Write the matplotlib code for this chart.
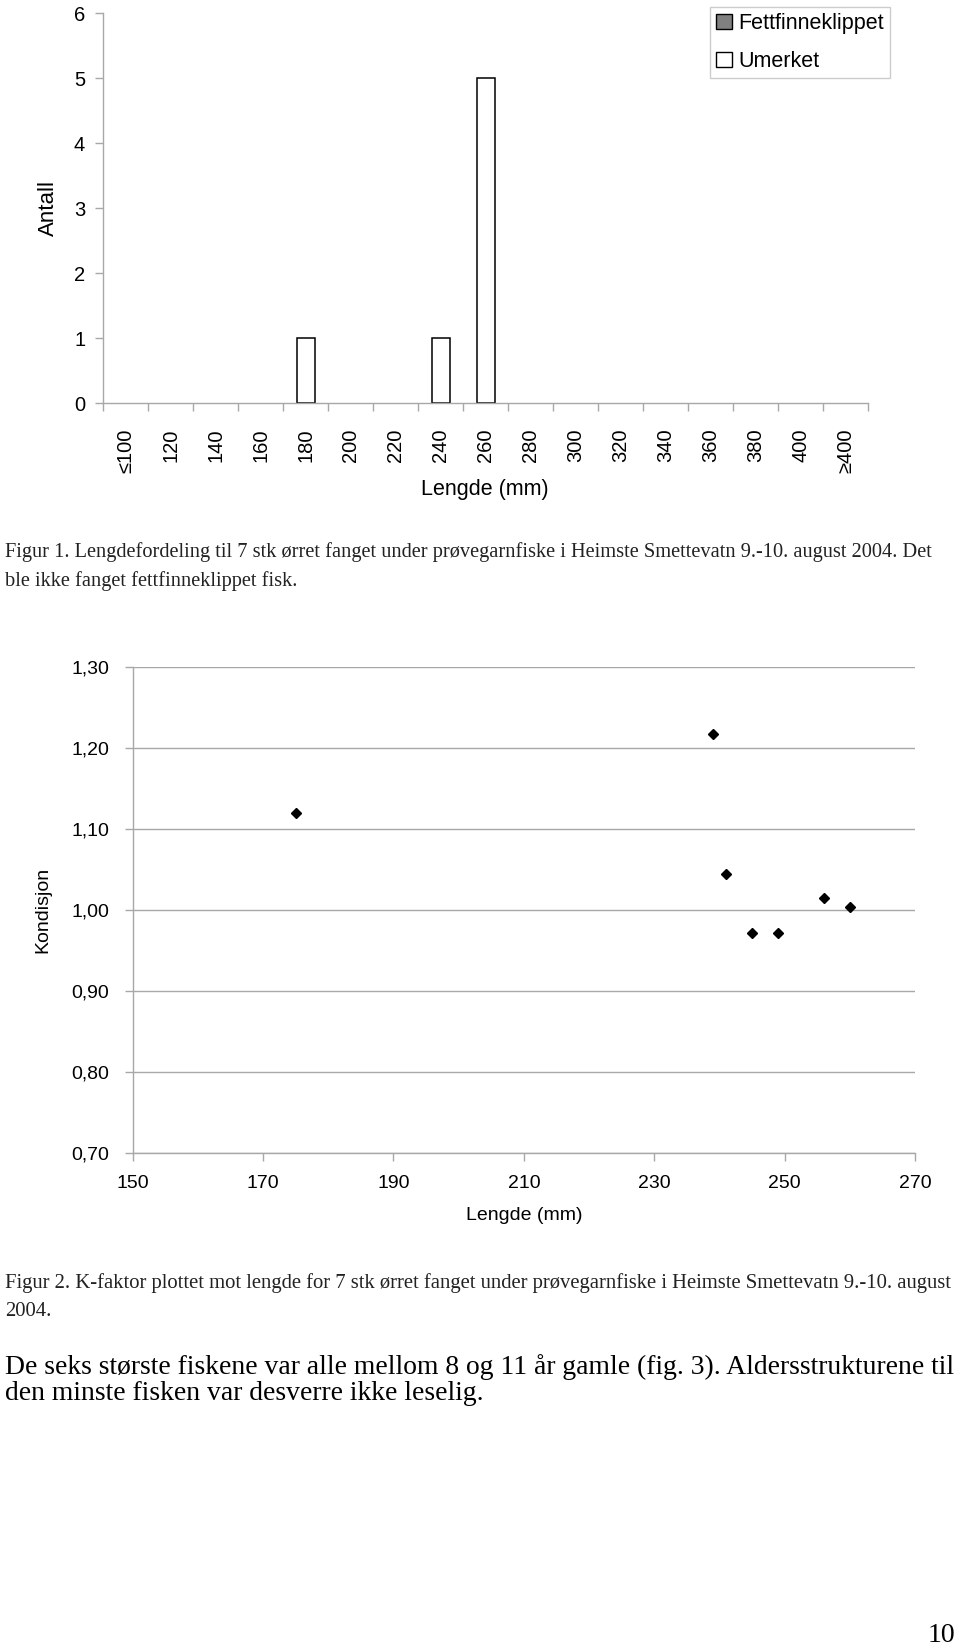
import numpy as np
import matplotlib
matplotlib.use("Agg")
import matplotlib.pyplot as plt
from matplotlib.patches import Patch

plt.rcParams['font.family'] = ['Liberation Sans', 'DejaVu Sans']

# ---- data: length distribution (fig 1) ----
len_classes = ['≤100', '120', '140', '160', '180', '200', '220', '240', '260',
               '280', '300', '320', '340', '360', '380', '400', '≥400']
fettfinne = [0, 0, 0, 0, 0, 0, 0, 0, 0, 0, 0, 0, 0, 0, 0, 0, 0]
umerket = [0, 0, 0, 0, 1, 0, 0, 1, 5, 0, 0, 0, 0, 0, 0, 0, 0]

# ---- data: condition factor vs length (fig 2) ----
lengde = [175, 239, 241, 245, 249, 256, 260]
kondisjon = [1.12, 1.217, 1.044, 0.971, 0.971, 1.014, 1.003]

W, H = 960, 1647
AXIS = '#a8a8a8'


def fy(px):
    return 1 - px / H


def fx(px):
    return px / W


fig = plt.figure(figsize=(W / 100, H / 100), dpi=100)

# ================= FIG 1 ================= #
ax1 = fig.add_axes([fx(103.3), fy(403.3), fx(868.3) - fx(103.3), fy(13.3) - fy(403.3)])
x = np.arange(len(len_classes))
fett = np.array(fettfinne)
umk = np.array(umerket)
m = fett > 0
ax1.bar(x[m], fett[m], width=0.4, color='#808080', edgecolor='black', linewidth=1.1)
m = umk > 0
ax1.bar(x[m], umk[m], width=0.4, bottom=fett[m], color='white', edgecolor='black', linewidth=1.1)

ax1.set_xlim(-0.5, len(len_classes) - 0.5)
ax1.set_ylim(0, 6)
ax1.set_yticks(range(0, 7))
ax1.tick_params(axis='y', labelsize=14.5, length=6, color=AXIS, pad=7, width=1)
ax1.set_xticks(np.arange(-0.5, len(len_classes), 1))
ax1.set_xticklabels([])
ax1.tick_params(axis='x', which='major', length=6, color=AXIS, width=1)
ax1.set_xticks(x, minor=True)
ax1.set_xticklabels(len_classes, minor=True, rotation=90, fontsize=14.5)
ax1.tick_params(axis='x', which='minor', length=0, pad=18)
for s in ['top', 'right']:
    ax1.spines[s].set_visible(False)
for s in ['left', 'bottom']:
    ax1.spines[s].set_color(AXIS)
    ax1.spines[s].set_linewidth(1)
fig.text(fx(48), fy(208), 'Antall', rotation=90, fontsize=16, ha='center', va='center')
fig.text(fx(485), fy(490), 'Lengde (mm)', fontsize=15.5, ha='center', va='center')

handles = [Patch(facecolor='#808080', edgecolor='black', label='Fettfinneklippet'),
           Patch(facecolor='white', edgecolor='black', label='Umerket')]
leg = fig.legend(handles=handles, loc='upper left', bbox_to_anchor=(fx(710), fy(6.7)),
                 fontsize=15.5, frameon=True, fancybox=False, handlelength=0.7,
                 handleheight=0.7, handletextpad=0.3, borderpad=0.3, labelspacing=0.78,
                 borderaxespad=0)
leg.get_frame().set_edgecolor('#c0c0c0')
leg.get_frame().set_linewidth(1)

serif = ['Liberation Serif', 'DejaVu Serif']
fig.text(fx(5), fy(552.5), 'Figur 1. Lengdefordeling til 7 stk ørret fanget under prøvegarnfiske '
         'i Heimste Smettevatn 9.-10. august 2004. Det', family=serif, fontsize=14.7,
         ha='left', va='center', color='#222222')
fig.text(fx(5), fy(581), 'ble ikke fanget fettfinneklippet fisk.', family=serif, fontsize=14.7,
         ha='left', va='center', color='#222222')

# ================= FIG 2 ================= #
ax2 = fig.add_axes([fx(132.7), fy(1152.8), fx(915) - fx(132.7), fy(666.8) - fy(1152.8)])
ax2.plot(lengde, kondisjon, linestyle='none', marker='D', ms=5, color='black')
ax2.set_xlim(150, 270)
ax2.set_ylim(0.70, 1.30)
ax2.set_xticks(np.arange(150, 271, 20))
yt = np.arange(0.70, 1.301, 0.10)
ax2.set_yticks(yt)
ax2.set_yticklabels([f'{v:.2f}'.replace('.', ',') for v in yt])
ax2.yaxis.grid(True, color=AXIS, linewidth=1)
ax2.set_axisbelow(True)
ax2.tick_params(axis='both', labelsize=14, length=6, color=AXIS, width=1)
ax2.tick_params(axis='y', pad=11)
ax2.tick_params(axis='x', pad=10)
for s in ['top', 'right']:
    ax2.spines[s].set_visible(False)
for s in ['left', 'bottom']:
    ax2.spines[s].set_color(AXIS)
    ax2.spines[s].set_linewidth(1)
fig.text(fx(43), fy(910), 'Kondisjon', rotation=90, fontsize=14, ha='center', va='center')
fig.text(fx(524), fy(1216), 'Lengde (mm)', fontsize=14, ha='center', va='center')

fig.text(fx(5), fy(1283), 'Figur 2. K-faktor plottet mot lengde for 7 stk ørret fanget under '
         'prøvegarnfiske i Heimste Smettevatn 9.-10. august', family=serif, fontsize=14.9,
         ha='left', va='center', color='#222222')
fig.text(fx(5), fy(1311), '2004.', family=serif, fontsize=14.9, ha='left', va='center',
         color='#222222')
fig.text(fx(5), fy(1367), 'De seks største fiskene var alle mellom 8 og 11 år gamle (fig. 3). '
         'Aldersstrukturene til', family=serif, fontsize=19.9, ha='left', va='center')
fig.text(fx(5), fy(1394), 'den minste fisken var desverre ikke leselig.', family=serif,
         fontsize=19.9, ha='left', va='center')
fig.text(fx(955), fy(1636), '10', family=serif, fontsize=20, ha='right', va='center')

fig.savefig('out.png', dpi=100)
